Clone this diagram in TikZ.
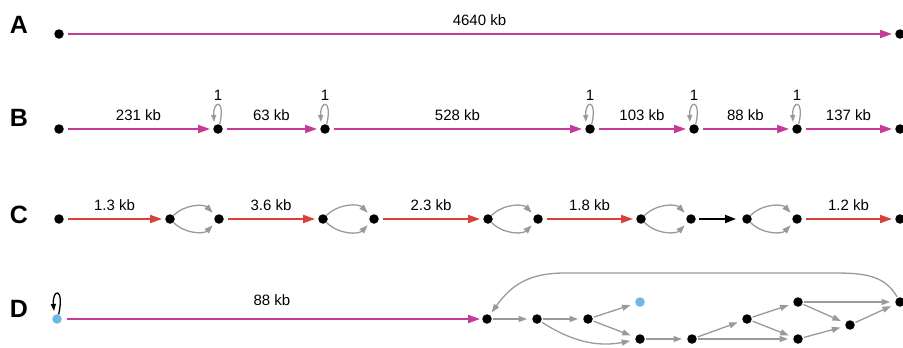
\documentclass[tikz,border=0pt]{standalone}
\usepackage{fontspec}
\setmainfont{Liberation Sans}
\usetikzlibrary{arrows.meta}
\definecolor{mag}{HTML}{C43C96}
\definecolor{redar}{HTML}{D8403A}
\definecolor{grayar}{HTML}{9A9A9A}
\definecolor{dblue}{HTML}{6DB6E6}
\begin{document}
\begin{tikzpicture}[x=1pt,y=-1pt,
  dot/.style={circle,fill=black,inner sep=0pt,minimum size=9.5pt},
  bdot/.style={dot,fill=dblue},
  letter/.style={font=\fontsize{25}{28}\selectfont\bfseries,inner sep=0pt},
  lab/.style={above=7pt,inner sep=0pt,font=\fontsize{15}{17}\selectfont,text=black},
  onelab/.style={inner sep=0pt,font=\fontsize{15}{17}\selectfont},
  magar/.style={draw=mag,line width=1.9pt,-{Triangle[length=12pt,width=8pt]},shorten >=3pt,shorten <=4pt},
  redarr/.style={draw=redar,line width=1.9pt,-{Triangle[length=12pt,width=8pt]},shorten >=3pt,shorten <=4pt},
  blkar/.style={draw=black,line width=1.9pt,-{Triangle[length=11pt,width=8pt]},shorten >=6pt,shorten <=3pt},
  grar/.style={draw=grayar,line width=1.3pt,-{Triangle[length=8.5pt,width=6pt]},shorten >=5pt,shorten <=1pt},
  grloop/.style={draw=grayar,line width=1.3pt,-{Triangle[length=7pt,width=5pt]}},
  bkloop/.style={draw=black,line width=1.3pt,-{Triangle[length=7pt,width=5pt]}}
]
\useasboundingbox (0,0) rectangle (903,348);

% letters
\node[letter] (LA) at (19,25) {A};
\node[letter] (LB) at (19,118) {B};
\node[letter] (LC) at (19,215) {C};
\node[letter] (LD) at (19,309) {D};

% Row A
\node[dot] (a0) at (59,34) {};
\node[dot] (a1) at (900,34) {};
\draw[magar] (a0) -- node[lab] {4640 kb} (a1);

% Row B
\foreach \n/\x in {0/59,1/218,2/325,3/590,4/694,5/797,6/900}
  \node[dot] (b\n) at (\x,129) {};
\draw[magar] (b0) -- node[lab] {231 kb} (b1);
\draw[magar] (b1) -- node[lab] {63 kb} (b2);
\draw[magar] (b2) -- node[lab] {528 kb} (b3);
\draw[magar] (b3) -- node[lab] {103 kb} (b4);
\draw[magar] (b4) -- node[lab] {88 kb} (b5);
\draw[magar] (b5) -- node[lab] {137 kb} (b6);
\foreach \n in {1,...,5}{
  \draw[grloop] (b\n.70) .. controls +(6,-26) and +(-1,-22) .. ([shift={(-4,-7)}]b\n.center);
  \node[onelab] (one\n) at ([shift={(0,-34)}]b\n.center) {1};
}

% Row C
\foreach \n/\x in {0/59,1/170,2/219,3/323,4/374,5/488,6/538,7/641,8/691,9/747,10/797,11/900}
  \node[dot] (c\n) at (\x,219) {};
\draw[redarr] (c0) -- node[lab] {1.3 kb} (c1);
\draw[redarr] (c2) -- node[lab] {3.6 kb} (c3);
\draw[redarr] (c4) -- node[lab] {2.3 kb} (c5);
\draw[redarr] (c6) -- node[lab] {1.8 kb} (c7);
\draw[blkar] (c8) -- (c9);
\draw[redarr] (c10) -- node[lab] {1.2 kb} (c11);
\foreach \a/\b in {1/2,3/4,5/6,7/8,9/10}{
  \draw[grar,shorten >=4pt,shorten <=0pt] (c\a) to[bend left=45] (c\b);
  \draw[grar,shorten >=4pt,shorten <=0pt] (c\a) to[bend right=45] (c\b);
}

% Row D
\node[bdot] (d0) at (57,319) {};
\draw[bkloop] (d0.70) .. controls +(6,-28) and +(-2,-22) .. ([shift={(-3,-8)}]d0.center);
\node[dot] (n1) at (487,319) {};
\draw[magar,shorten <=5pt,shorten >=2pt] (d0) -- node[lab,above=5pt] {88 kb} (n1);
\node[dot] (n2) at (537,319) {};
\node[dot] (n3) at (588,319) {};
\node[bdot] (nb) at (640,302) {};
\node[dot] (n4) at (640,339) {};
\node[dot] (n5) at (692,339) {};
\node[dot] (n6) at (747,319) {};
\node[dot] (n7) at (798,302) {};
\node[dot] (n8) at (798,339) {};
\node[dot] (n9) at (850,325) {};
\node[dot] (n10) at (900,302) {};
\draw[grar] (n1) -- (n2);
\draw[grar] (n2) -- (n3);
\draw[grar] (n3) -- (nb);
\draw[grar] (n3) -- (n4);
\draw[grar] (n2) to[bend right=22] (n4);
\draw[grar] (n4) -- (n5);
\draw[grar] (n5) -- (n6);
\draw[grar] (n5) -- (n8);
\draw[grar] (n6) -- (n7);
\draw[grar] (n6) -- (n8);
\draw[grar] (n7) -- (n10);
\draw[grar] (n7) -- (n9);
\draw[grar] (n8) -- (n9);
\draw[grar] (n9) -- (n10);
\draw[grar,shorten >=3pt] (n10) .. controls (885,276) and (866,273) .. (835,273)
  -- (565,273) .. controls (530,273) and (512,284) .. (n1);
\end{tikzpicture}
\end{document}
